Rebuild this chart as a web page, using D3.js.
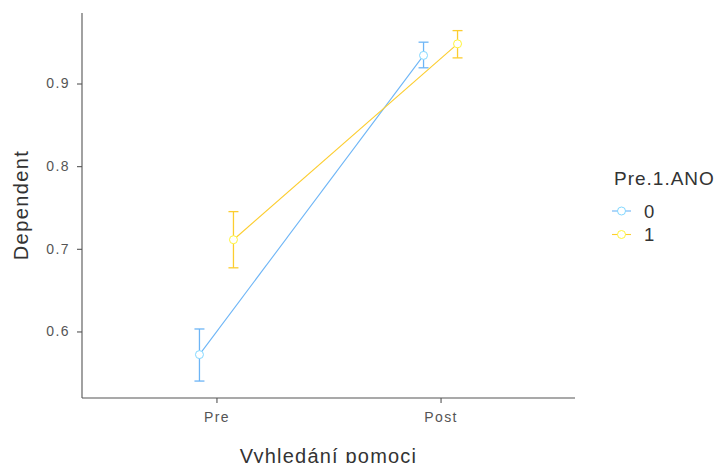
<!DOCTYPE html>
<html>
<head>
<meta charset="utf-8">
<script src="https://cdn.jsdelivr.net/npm/d3@7"></script>
<style>
  body { margin: 0; background: #fff; }
  svg { display: block; font-family: "Liberation Sans", Arial, sans-serif; }
</style>
</head>
<body>
<svg id="chart" width="719" height="463"></svg>
<script>
// data
var phases = ["Pre", "Post"];
var groups = ["0", "1"];
var means0 = [0.572, 0.934];
var lower0 = [0.540, 0.919];
var upper0 = [0.603, 0.950];
var means1 = [0.711, 0.948];
var lower1 = [0.677, 0.931];
var upper1 = [0.745, 0.964];
var yTicks = [0.6, 0.7, 0.8, 0.9];

var colors = ["#6db5f6", "#fccd2f"];
var series = [
    { group: groups[0], mean: means0, lo: lower0, hi: upper0 },
    { group: groups[1], mean: means1, lo: lower1, hi: upper1 }
];

var svg = d3.select("#chart");
var plotLeft = 82, plotRight = 575, plotTop = 13, plotBottom = 398;
var dodge = 17;

// discrete x like ggplot (positions 1..n, expanded by 0.6)
var x = d3.scaleLinear().domain([0.4, phases.length + 0.6]).range([plotLeft, plotRight]);
var y = d3.scaleLinear().domain([0.5195, 0.9853]).range([plotBottom, plotTop]);

function xpos(i, g) {
    return x(i + 1) + (g == 0 ? -dodge : dodge);
}

// axes
var yAxis = d3.axisLeft(y).tickValues(yTicks).tickSize(5).tickPadding(7).tickFormat(d3.format(".1f"));
var gy = svg.append("g").attr("transform", "translate(" + plotLeft + ",0)").call(yAxis);
gy.select(".domain").attr("d", "M0," + plotTop + "V" + plotBottom);

var xAxis = d3.axisBottom(x).tickValues([1, 2]).tickSize(5).tickPadding(9)
    .tickFormat(function (d) { return phases[d - 1]; });
var gx = svg.append("g").attr("transform", "translate(0," + plotBottom + ")").call(xAxis);
gx.select(".domain").attr("d", "M" + plotLeft + ",0H" + plotRight);

svg.selectAll(".domain").attr("stroke", "#555").attr("stroke-width", 1.1);
svg.selectAll(".tick line").attr("stroke", "#555").attr("stroke-width", 1.1);
svg.selectAll(".tick text")
    .attr("fill", "#555")
    .style("font-size", "14px")
    .style("letter-spacing", "1.4px");

// axis titles
svg.append("text")
    .attr("transform", "translate(28,205) rotate(-90)")
    .attr("text-anchor", "middle")
    .attr("fill", "#333")
    .style("font-size", "20px")
    .style("letter-spacing", "1.4px")
    .text("Dependent");

svg.append("text")
    .attr("x", (plotLeft + plotRight) / 2)
    .attr("y", 462.5)
    .attr("text-anchor", "middle")
    .attr("fill", "#333")
    .style("font-size", "20px")
    .style("letter-spacing", "1.2px")
    .text("Vyhledání pomoci");

// lines, error bars, points
series.forEach(function (s, g) {
    var line = d3.line()
        .x(function (d, i) { return xpos(i, g); })
        .y(function (d) { return y(d); });

    svg.append("path")
        .datum(s.mean)
        .attr("d", line)
        .attr("fill", "none")
        .attr("stroke", colors[g])
        .attr("stroke-width", 1.1);

    s.mean.forEach(function (m, i) {
        var cx = xpos(i, g);
        var eb = svg.append("g").attr("stroke", colors[g]).attr("stroke-width", 1.3);
        eb.append("line").attr("x1", cx).attr("x2", cx).attr("y1", y(s.lo[i])).attr("y2", y(s.hi[i]));
        eb.append("line").attr("x1", cx - 5).attr("x2", cx + 5).attr("y1", y(s.lo[i])).attr("y2", y(s.lo[i]));
        eb.append("line").attr("x1", cx - 5).attr("x2", cx + 5).attr("y1", y(s.hi[i])).attr("y2", y(s.hi[i]));
    });

    svg.selectAll(".pt" + g)
        .data(s.mean)
        .enter()
        .append("circle")
        .attr("cx", function (d, i) { return xpos(i, g); })
        .attr("cy", function (d) { return y(d); })
        .attr("r", 4)
        .attr("fill", "#fff")
        .attr("stroke", d3.color(colors[g]).brighter(0.5))
        .attr("stroke-width", 1);
});

// legend
var lg = svg.append("g").attr("transform", "translate(612,0)");
lg.append("text")
    .attr("x", 2)
    .attr("y", 185)
    .attr("fill", "#333")
    .style("font-size", "19px")
    .style("letter-spacing", "1px")
    .text("Pre.1.ANO");

var items = lg.selectAll(".item")
    .data(groups)
    .enter()
    .append("g")
    .attr("transform", function (d, i) { return "translate(0," + (211 + i * 23.5) + ")"; });

items.append("line")
    .attr("x1", 0).attr("x2", 19)
    .attr("stroke", function (d, i) { return colors[i]; })
    .attr("stroke-width", 1.1);
items.append("circle")
    .attr("cx", 9.5).attr("r", 4)
    .attr("fill", "#fff")
    .attr("stroke", function (d, i) { return d3.color(colors[i]).brighter(0.5); });
items.append("text")
    .attr("x", 32)
    .attr("y", 6.5)
    .attr("fill", "#333")
    .style("font-size", "18.5px")
    .text(function (d) { return d; });
</script>
</body>
</html>
